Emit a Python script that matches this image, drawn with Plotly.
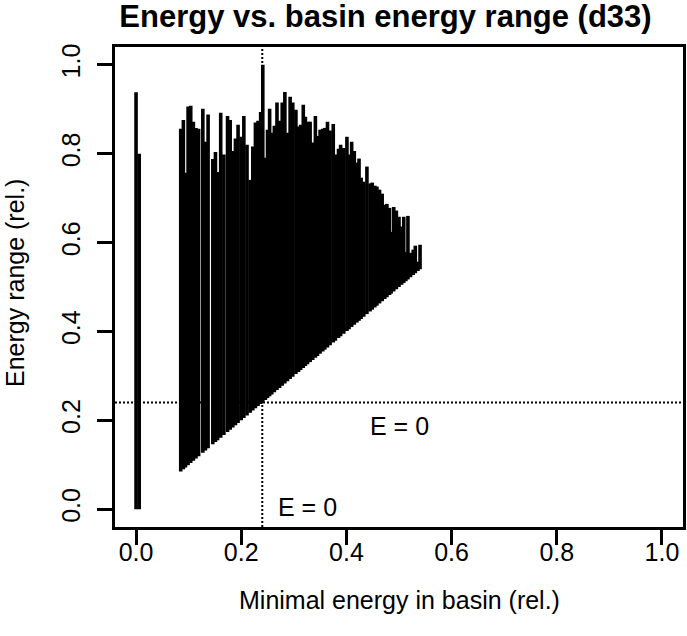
import plotly.graph_objects as go

# Basin minimal energy (rel.) for each basin
min_energy = [0.000, 0.006,
    0.085, 0.090, 0.094, 0.099, 0.104, 0.109, 0.114, 0.119, 0.127, 0.132,
    0.137, 0.146, 0.151, 0.155, 0.161, 0.167, 0.174, 0.179, 0.184, 0.189,
    0.194, 0.200, 0.205, 0.211, 0.217, 0.222, 0.227, 0.232, 0.237, 0.241,
    0.246, 0.250, 0.254, 0.258, 0.263, 0.268, 0.273, 0.278, 0.283, 0.288,
    0.293, 0.298, 0.304, 0.309, 0.313, 0.318, 0.322, 0.326, 0.331, 0.336,
    0.341, 0.345, 0.350, 0.355, 0.359, 0.364, 0.369, 0.375, 0.379, 0.385,
    0.389, 0.395, 0.401, 0.405, 0.410, 0.415, 0.420, 0.424, 0.428, 0.433,
    0.439, 0.445, 0.449, 0.454, 0.458, 0.463, 0.468, 0.473, 0.477, 0.482,
    0.485, 0.490, 0.495, 0.500, 0.505, 0.509, 0.513, 0.517, 0.522, 0.527,
    0.531, 0.536, 0.540]

# Lower end of each energy range (basin minimum)
range_low = [0.000, 0.000] + min_energy[2:]

# Upper end of each energy range (rel.)
range_high = [0.938, 0.800,
    0.856, 0.876, 0.757, 0.906, 0.908, 0.872, 0.858, 0.856, 0.901, 0.827,
    0.888, 0.788, 0.804, 0.759, 0.892, 0.798, 0.885, 0.876, 0.806, 0.834,
    0.865, 0.838, 0.885, 0.820, 0.741, 0.816, 0.870, 0.874, 0.894, 1.000,
    0.791, 0.854, 0.901, 0.847, 0.863, 0.915, 0.874, 0.915, 0.939, 0.847,
    0.928, 0.915, 0.899, 0.861, 0.865, 0.910, 0.883, 0.872, 0.872, 0.825,
    0.885, 0.840, 0.854, 0.856, 0.858, 0.872, 0.852, 0.867, 0.798, 0.811,
    0.820, 0.813, 0.838, 0.798, 0.827, 0.806, 0.780, 0.789, 0.746, 0.737,
    0.771, 0.733, 0.735, 0.728, 0.726, 0.719, 0.710, 0.685, 0.687, 0.678,
    0.624, 0.680, 0.672, 0.658, 0.636, 0.658, 0.579, 0.660, 0.577, 0.584,
    0.593, 0.557, 0.595]

e0_x = 0.24   # E = 0 on the minimal-energy axis
e0_y = 0.24   # E = 0 on the energy-range axis

tick_vals = [0.0, 0.2, 0.4, 0.6, 0.8, 1.0]
tick_text = ["0.0", "0.2", "0.4", "0.6", "0.8", "1.0"]

FONT = "Liberation Sans, Arial, Helvetica, sans-serif"

xs, ys = [], []
for x, lo, hi in zip(min_energy, range_low, range_high):
    xs += [x, x, None]
    ys += [lo, hi, None]

fig = go.Figure()
fig.add_trace(go.Scatter(x=xs, y=ys, mode="lines",
                         line=dict(color="black", width=3.6),
                         hoverinfo="skip", showlegend=False))

dot = dict(color="black", width=2, dash="2px,2px")
fig.add_shape(type="line", xref="x", yref="paper", x0=e0_x, x1=e0_x, y0=0, y1=1, line=dot)
fig.add_shape(type="line", xref="paper", yref="y", x0=0, x1=1, y0=e0_y, y1=e0_y, line=dot)

fig.add_annotation(x=e0_x, y=0.0, xref="x", yref="y", text="E = 0", showarrow=False,
                   xanchor="left", yanchor="middle", xshift=14, yshift=2,
                   font=dict(family=FONT, size=25, color="black"))
fig.add_annotation(x=0.5, y=e0_y, xref="x", yref="y", text="E = 0", showarrow=False,
                   xanchor="center", yanchor="top", yshift=-7,
                   font=dict(family=FONT, size=25, color="black"))

# axis titles
fig.add_annotation(x=0.5, y=0, xref="paper", yref="paper", text="Minimal energy in basin (rel.)",
                   showarrow=False, xanchor="center", yanchor="middle", yshift=-73,
                   font=dict(family=FONT, size=25, color="black"))
fig.add_annotation(x=0, y=0.5, xref="paper", yref="paper", text="Energy range (rel.)",
                   showarrow=False, xanchor="center", yanchor="middle", xshift=-100, yshift=4,
                   textangle=-90, font=dict(family=FONT, size=25, color="black"))

axis_common = dict(range=[-0.04, 1.04], showgrid=False, zeroline=False,
                   showline=True, linecolor="black", linewidth=2.5, mirror=True,
                   ticks="outside", ticklen=15, tickwidth=2.5, tickcolor="black",
                   tickvals=tick_vals, ticktext=tick_text,
                   tickfont=dict(family=FONT, size=25, color="black"))

fig.update_layout(
    width=687, height=636,
    margin=dict(l=115, r=1, t=47, b=109),
    paper_bgcolor="white", plot_bgcolor="white",
    title=dict(text="<b>Energy vs. basin energy range (d33)</b>",
               x=385.5 / 687, xref="container", xanchor="center",
               y=1 - 16 / 636, yref="container", yanchor="middle",
               font=dict(family=FONT, size=31, color="black")),
    xaxis=dict(**axis_common, ticklabelstandoff=-14),
    yaxis=dict(**axis_common, tickangle=-90, ticklabelstandoff=7),
)

fig.write_html("out.html", config={"displayModeBar": False},
               post_script="document.body.style.margin='0';document.body.style.overflow='hidden';")
